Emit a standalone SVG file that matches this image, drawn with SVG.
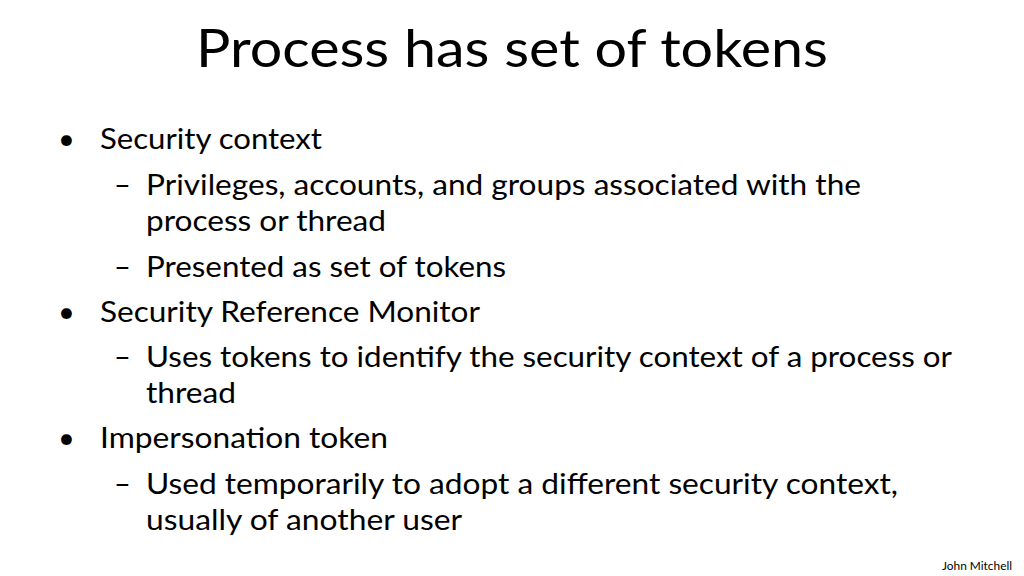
<svg xmlns="http://www.w3.org/2000/svg" width="1024" height="576" viewBox="0 0 1024 576">
<style>
text{font-family:Lato,"Open Sans",sans-serif;fill:#000}
.t{font-size:52px}
.b{font-size:29px}
.f{font-size:11px}
</style>
<rect width="1024" height="576" fill="#fff"/>
<g id="title"><text class="t" x="196" y="67" textLength="632" lengthAdjust="spacingAndGlyphs">Process has set of tokens</text></g>
<g id="body" class="b">
<text class="b" x="58" y="149">•</text>
<text class="b" x="100" y="149" textLength="222" lengthAdjust="spacingAndGlyphs">Security context</text>
<text class="b" x="114" y="195">–</text>
<text class="b" x="146" y="195" textLength="715" lengthAdjust="spacingAndGlyphs">Privileges, accounts, and groups associated with the</text>
<text class="b" x="146" y="231" textLength="240" lengthAdjust="spacingAndGlyphs">process or thread</text>
<text class="b" x="114" y="277">–</text>
<text class="b" x="146" y="277" textLength="360" lengthAdjust="spacingAndGlyphs">Presented as set of tokens</text>
<text class="b" x="58" y="322">•</text>
<text class="b" x="100" y="322" textLength="380" lengthAdjust="spacingAndGlyphs">Security Reference Monitor</text>
<text class="b" x="114" y="367">–</text>
<text class="b" x="146" y="367" textLength="806" lengthAdjust="spacingAndGlyphs">Uses tokens to identify the security context of a process or</text>
<text class="b" x="146" y="403" textLength="90" lengthAdjust="spacingAndGlyphs">thread</text>
<text class="b" x="58" y="448">•</text>
<text class="b" x="100" y="448" textLength="288" lengthAdjust="spacingAndGlyphs">Impersonation token</text>
<text class="b" x="114" y="494">–</text>
<text class="b" x="146" y="494" textLength="752" lengthAdjust="spacingAndGlyphs">Used temporarily to adopt a different security context,</text>
<text class="b" x="146" y="530" textLength="316" lengthAdjust="spacingAndGlyphs">usually of another user</text>
</g>
<g id="footer"><text class="f" x="942" y="570" textLength="70" lengthAdjust="spacingAndGlyphs">John Mitchell</text></g>
</svg>
